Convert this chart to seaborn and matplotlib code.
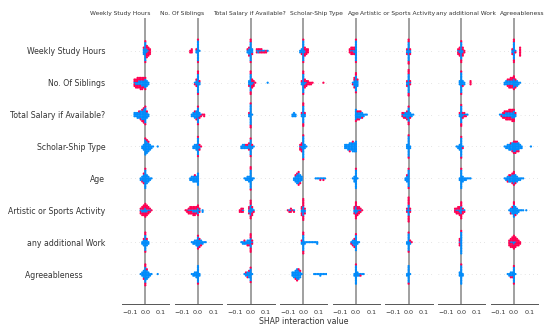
"""
SHAP interaction summary: one beeswarm column per interacting feature
"""

import warnings

import matplotlib
matplotlib.use("Agg")
import matplotlib.pyplot as plt
import pandas as pd
import seaborn as sns

warnings.filterwarnings("ignore", category=UserWarning)

sns.set_style("white")
plt.rcParams["font.family"] = ["DejaVu Sans"]

features = [
    "Weekly Study Hours",
    "No. Of Siblings",
    "Total Salary if Available?",
    "Scholar-Ship Type",
    "Age",
    "Artistic or Sports Activity",
    "any additional Work",
    "Agreeableness",
]
x_ticks = [-0.1, 0.0, 0.1]
x_tick_labels = ["\u22120.1", "0.0", "0.1"]

# Values, one string per column feature.
# token "k:b/r" -> SHAP value k/100 with b low (blue) and r high (red) dots
weekly_study_hours = [
    "-1:4/1 0:12/2 1:3/5 2:1/5 3:0/4",
    "-5:0/2 -4:0/3 -1:2/1 0:13/2 1:1/0",
    "-2:2/1 -1:4/2 0:12/3 1:3/1 4:1/2 5:2/1 6:1/2 7:1/2 8:1/1 9:1/1 10:0/2 11:1/0",
    "-2:2/0 -1:3/1 0:13/2 1:2/4 2:0/4 3:0/3",
    "-4:0/3 -3:1/4 -2:1/4 -1:2/3 0:13/2",
    "-1:2/2 0:12/4 1:2/2",
    "-2:1/3 -1:2/4 0:11/3 1:2/4 2:0/2",
    "-1:2/2 0:11/4 1:1/1 4:0/6",
]
no_of_siblings = [
    "-7:1/4 -6:2/4 -5:2/5 -4:3/4 -3:3/5 -2:4/4 -1:4/3 0:6/2 1:4/0 2:2/0",
    "-2:1/1 -1:3/2 0:12/3 1:2/1",
    "-1:3/1 0:11/4 1:2/4 2:1/3 3:0/1 11:1/0",
    "-1:2/1 0:12/3 1:2/4 2:1/3 3:0/3 4:0/2 5:0/2 6:0/1 13:0/1",
    "-2:1/1 -1:4/3 0:10/3 1:4/1",
    "-1:2/2 0:12/5 1:1/2",
    "-1:3/0 0:13/2 1:3/1 2:2/0 6:0/3",
    "-6:2/0 -5:3/0 -4:3/2 -3:3/3 -2:3/4 -1:3/4 0:6/3 1:4/2 2:4/0 3:2/0 4:1/0",
]
total_salary = [
    "-7:3/0 -6:3/0 -5:4/0 -4:4/1 -3:5/1 -2:6/2 -1:7/3 0:10/2 1:4/1 2:2/0",
    "-4:2/0 -3:3/0 -2:4/1 -1:5/1 0:10/2 1:3/1 2:1/1 3:0/1 4:0/2",
    "-1:2/1 0:13/3 1:1/0",
    "-7:2/0 -6:3/0 -5:2/0 -1:2/1 0:11/4 1:2/1",
    "0:7/1 1:4/2 2:4/2 3:4/1 4:3/1 5:2/0 6:1/0 7:1/0",
    "-4:1/2 -3:2/2 -2:3/1 -1:4/2 0:9/3 1:3/1 2:2/0 3:1/0",
    "-1:2/1 0:11/3 1:2/2 2:1/2 3:1/1 4:1/0",
    "-9:1/0 -8:1/1 -7:2/2 -6:2/3 -5:3/3 -4:3/3 -3:3/4 -2:3/4 -1:4/4 0:5/3 1:2/1",
]
scholarship_type = [
    "-2:2/0 -1:4/0 0:10/1 1:8/1 2:6/1 3:4/0 4:2/0 5:1/0 8:1/0",
    "-3:2/0 -2:3/0 -1:4/0 0:11/2 1:2/2 2:0/1",
    "-6:2/0 -5:3/0 -4:3/0 -3:2/1 -2:2/1 -1:3/2 0:10/2 1:2/1 2:1/0",
    "-2:1/3 -1:2/4 0:14/2 1:3/0 2:1/0",
    "-7:3/0 -6:3/0 -5:4/0 -4:5/1 -3:5/0 -2:6/1 -1:6/0 0:7/0",
    "-1:3/0 0:13/2 1:2/0",
    "-3:1/0 -2:2/0 -1:4/0 0:12/2 1:1/1",
    "-6:1/0 -5:2/0 -4:3/0 -3:4/0 -2:4/1 -1:5/1 0:6/2 1:6/2 2:5/2 3:5/1 4:3/0 5:2/0 11:1/0",
]
age = [
    "-3:2/0 -2:3/1 -1:5/2 0:12/1 1:6/0 2:4/0 3:2/0 4:1/0",
    "-5:2/0 -4:3/0 -3:4/0 -2:4/1 -1:4/0 0:8/0",
    "-4:1/0 -3:2/0 -2:3/0 -1:4/0 0:12/3 1:2/0 2:1/0",
    "-6:2/0 -5:4/1 -4:6/1 -3:7/2 -2:5/1 -1:3/0 8:1/0 9:1/0 10:1/0 11:1/1 12:1/0 13:1/1 14:1/0",
    "-2:1/0 -1:4/0 0:12/1 1:1/0",
    "-2:2/0 -1:4/1 0:11/2",
    "-1:2/0 0:12/1 1:4/0 2:2/0 3:2/0 4:1/0 5:1/0 6:1/0",
    "-6:1/0 -5:2/0 -4:3/1 -3:4/1 -2:4/1 -1:5/2 0:6/3 1:5/1 2:4/0 3:2/0 4:2/0 5:1/0 6:1/0",
]
artistic_sports = [
    "-3:1/3 -2:2/4 -1:2/5 0:3/6 1:2/5 2:1/4 3:1/2 4:0/1",
    "-8:0/1 -7:0/2 -6:1/3 -5:1/4 -4:1/4 -3:2/4 -2:2/4 -1:2/3 0:4/3 1:1/2 3:2/0",
    "-7:0/2 -6:0/3 -5:1/2 -1:2/3 0:7/5 1:3/3 2:1/1",
    "-10:0/1 -9:1/1 -8:1/2 -7:0/1 -6:1/1 -1:2/4 0:6/8 1:2/2",
    "-1:2/3 0:5/6 1:2/4 2:1/4 3:1/2 4:0/1",
    "-1:1/2 0:7/9 1:1/2",
    "-4:0/3 -3:1/3 -2:1/4 -1:2/4 0:5/6 1:1/3 2:1/1",
    "-3:1/0 -2:3/1 -1:4/1 0:8/2 1:5/1 2:4/0 3:2/0 4:1/0 5:1/0 6:1/0 8:1/0",
]
additional_work = [
    "-2:2/0 -1:4/1 0:10/3 1:4/1 2:2/0",
    "-4:1/0 -3:2/0 -2:3/0 -1:4/0 0:7/2 1:4/2 2:3/1 3:2/0 4:1/0 5:1/0",
    "-6:1/0 -5:2/0 -4:2/1 -3:2/0 -2:3/1 -1:3/1 0:6/6 1:1/2",
    "-1:2/1 0:10/4 1:2/0 2:1/0 3:1/0 4:1/0 5:1/0 6:1/0 7:1/0 8:1/0 9:2/0",
    "-3:1/1 -2:3/1 -1:4/2 0:10/1 1:2/0 2:1/0",
    "-1:2/0 0:11/2 1:2/1 2:0/1",
    "-1:1/4 0:14/1",
    "-3:0/4 -2:1/5 -1:1/6 0:2/7 1:1/6 2:0/5 3:0/4 4:0/2",
]
agreeableness = [
    "-3:1/0 -2:3/0 -1:5/1 0:10/4 1:6/1 2:4/0 3:2/0 4:1/0 8:1/0",
    "-4:1/0 -3:2/0 -2:3/0 -1:4/0 0:11/1 1:2/0",
    "-4:1/0 -3:2/1 -2:3/1 -1:4/1 0:8/2 1:1/0",
    "-7:3/0 -6:4/0 -5:5/1 -4:7/1 -3:6/1 -2:4/1 -1:1/0 7:1/0 8:1/0 9:1/0 10:1/0 11:2/0 12:1/0 13:1/0 14:1/0 15:1/0",
    "-1:2/0 0:12/1 1:3/0 2:2/0 3:1/1 4:1/0 5:1/0",
    "-1:2/0 0:11/1 1:1/0",
    "-1:3/0 0:12/1 1:2/0",
    "-4:1/0 -3:2/0 -2:3/1 -1:3/1 0:10/2 1:1/0",
]

rows = [weekly_study_hours, no_of_siblings, total_salary, scholarship_type,
        age, artistic_sports, additional_work, agreeableness]

# long table: one record per dot
records = []
for row_name, specs in zip(features, rows):
    for col_name, spec in zip(features, specs):
        for tok in spec.split():
            k, counts = tok.split(":")
            n_low, n_high = (int(v) for v in counts.split("/"))
            for level in ["low"] * n_low + ["high"] * n_high:
                records.append({"row": row_name, "col": col_name,
                                "shap": int(k) / 100, "level": level})
df = pd.DataFrame(records)

palette = {"low": "#008bfb", "high": "#ff0052"}
row_labels = features[:-1] + [features[-1] + " " * 9]
# the column titles in the reference are nudged sideways (pixels) so they don't collide
title_shift_px = [-25.7, -16.4, -1.1, 13.2, -2.4, -11.1, 4.2, 7.5]

fig, axes = plt.subplots(1, len(features), figsize=(5.5, 3.33), dpi=100)
fig.subplots_adjust(left=0.222, right=0.978, bottom=0.087, top=0.946, wspace=0.115)
ax_width_px = axes[0].get_position().width * 550

for i, (ax, col_name) in enumerate(zip(axes, features)):
    sub = df[df["col"] == col_name]
    sns.swarmplot(data=sub, x="shap", y="row", hue="level", order=features,
                  hue_order=["low", "high"], palette=palette, size=1.1,
                  linewidth=0, legend=False, ax=ax)
    ax.axvline(0, color="#999999", lw=1.3, zorder=-1)
    ax.grid(axis="y", color="#cccccc", lw=0.5, linestyle=(0, (1, 5)))
    ax.set_axisbelow(True)
    ax.set_xlim(-0.15, 0.155)
    ax.set_ylim(7.94, -1.03)
    ax.set_xticks(x_ticks, x_tick_labels)
    ax.tick_params(axis="x", labelsize=4.6, length=2.5, width=0.6, pad=1.5,
                   colors="#333333")
    if i == 0:
        ax.set_yticks(range(len(features)), row_labels)
        ax.tick_params(axis="y", length=0, pad=12, labelsize=5.6, colors="#333333")
    else:
        ax.tick_params(axis="y", length=0, labelleft=False)
    sns.despine(ax=ax, left=True)
    ax.spines["bottom"].set_color("#555555")
    ax.spines["bottom"].set_linewidth(0.7)
    ax.set_title(col_name, fontsize=4.3, pad=2, color="#333333",
                 x=0.5 + title_shift_px[i] / ax_width_px)
    ax.set_ylabel("")
    ax.set_xlabel("")

axes[3].set_xlabel("SHAP interaction value", fontsize=5.6, labelpad=2, color="#333333")

# swarm layout is worked out with small dots; freeze it, then draw the dots
# a little larger so they overlap like the SHAP original
fig.canvas.draw()
for ax in axes:
    for points in ax.collections:
        points.__dict__.pop("draw", None)
        points.set_sizes([2.6])

fig.savefig("out.png", dpi=100)
